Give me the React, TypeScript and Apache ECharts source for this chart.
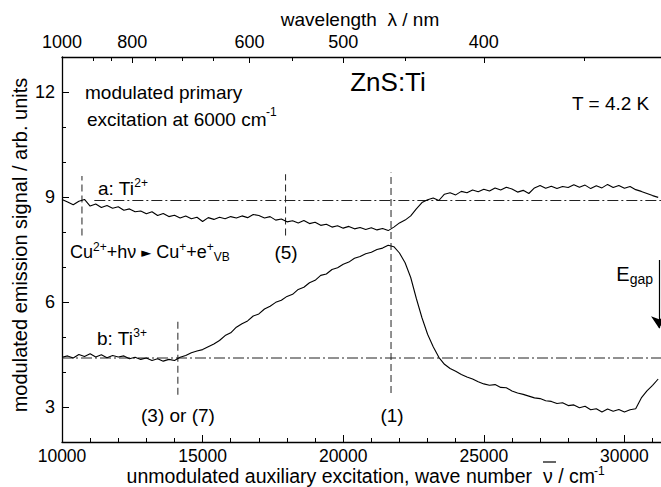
import React, { useEffect, useRef } from 'react';
import * as echarts from 'echarts';

// wave number grid (cm^-1)
const waveNumber = [
  10000, 10200, 10400, 10600, 10800, 11000, 11200, 11400, 11600, 11800,
  12000, 12200, 12400, 12600, 12800, 13000, 13200, 13400, 13600, 13800,
  14000, 14200, 14400, 14600, 14800, 15000, 15200, 15400, 15600, 15800,
  16000, 16200, 16400, 16600, 16800, 17000, 17200, 17400, 17600, 17800,
  18000, 18200, 18400, 18600, 18800, 19000, 19200, 19400, 19600, 19800,
  20000, 20200, 20400, 20600, 20800, 21000, 21200, 21400, 21600, 21800,
  22000, 22200, 22400, 22600, 22800, 23000, 23200, 23400, 23600, 23800,
  24000, 24200, 24400, 24600, 24800, 25000, 25200, 25400, 25600, 25800,
  26000, 26200, 26400, 26600, 26800, 27000, 27200, 27400, 27600, 27800,
  28000, 28200, 28400, 28600, 28800, 29000, 29200, 29400, 29600, 29800,
  30000, 30200, 30400, 30600, 30800, 31000, 31200,
];

// a: Ti2+
const ti2Signal = [
  8.93, 8.86, 8.78, 8.88, 8.93, 8.74, 8.80, 8.70, 8.76, 8.68,
  8.72, 8.62, 8.66, 8.58, 8.60, 8.52, 8.58, 8.47, 8.53, 8.44,
  8.48, 8.40, 8.46, 8.38, 8.42, 8.30, 8.41, 8.36, 8.42, 8.38,
  8.44, 8.40, 8.46, 8.41, 8.50, 8.47, 8.40, 8.44, 8.34, 8.37,
  8.29, 8.32, 8.26, 8.33, 8.24, 8.28, 8.19, 8.22, 8.14, 8.18,
  8.11, 8.16, 8.09, 8.13, 8.07, 8.12, 8.06, 8.10, 8.04, 8.14,
  8.26, 8.34, 8.46, 8.66, 8.84, 8.92, 8.97, 8.90, 9.08, 9.12,
  9.06, 9.16, 9.12, 9.20, 9.15, 9.22, 9.17, 9.26, 9.20, 9.28,
  9.23, 9.14, 9.19, 9.10, 9.26, 9.33, 9.25, 9.31, 9.24, 9.30,
  9.27, 9.35, 9.28, 9.34, 9.24, 9.32, 9.26, 9.36, 9.27, 9.33,
  9.25, 9.30, 9.21, 9.16, 9.10, 9.04, 8.99,
];

// b: Ti3+
const ti3Signal = [
  4.42, 4.46, 4.40, 4.50, 4.44, 4.52, 4.43, 4.49, 4.41, 4.47,
  4.43, 4.46, 4.38, 4.42, 4.36, 4.40, 4.33, 4.38, 4.31, 4.36,
  4.33, 4.42, 4.47, 4.55, 4.60, 4.64, 4.72, 4.80, 4.90, 5.04,
  5.12, 5.28, 5.38, 5.46, 5.60, 5.66, 5.80, 5.88, 5.99, 6.05,
  6.16, 6.22, 6.36, 6.42, 6.55, 6.62, 6.76, 6.80, 6.93, 6.98,
  7.08, 7.14, 7.25, 7.30, 7.38, 7.42, 7.50, 7.54, 7.62, 7.58,
  7.40, 7.12, 6.70, 6.10, 5.55, 5.08, 4.72, 4.42, 4.22, 4.10,
  4.02, 3.93, 3.86, 3.80, 3.72, 3.66, 3.62, 3.64, 3.56, 3.55,
  3.46, 3.40, 3.36, 3.31, 3.26, 3.24, 3.18, 3.16, 3.10, 3.12,
  3.04, 3.06, 2.98, 3.02, 2.92, 2.95, 2.86, 2.94, 2.88, 2.93,
  2.86, 2.92, 2.95, 3.26, 3.46, 3.62, 3.80,
];

// horizontal reference levels (dash-dot)
const ti2Level = 8.9;
const ti2LevelStart = 11150;
const ti3Level = 4.4;
const ti3LevelStart = 10000;

// vertical dashed markers: (a) start, (3) or (7), (5), (1)
const markerWn = [10710, 14120, 17950, 21700];
const markerLow = [7.9, 3.35, 7.9, 3.4];
const markerHigh = [9.6, 5.45, 9.65, 9.7];

// band gap arrow
const egapWn = 31230;
const egapFrom = 7.2;
const egapTo = 5.25;

// axes
const xMin = 10000;
const xMax = 31300;
const yMin = 2;
const yMax = 13;
const xMajorInterval = 5000;
const xMinorInterval = 1000;
const yMajorTicks = [3, 6, 9, 12];
const wavelengthLabels = [1000, 800, 600, 500, 400];
const wavelengthTicks = [1000, 900, 850, 800, 750, 700, 650, 600, 550, 500, 450, 400, 350];

const F = 'Liberation Sans, Arial, Helvetica, sans-serif';
const toWn = (nm: number) => 1e7 / nm;

export default function App() {
  const ref = useRef<HTMLDivElement>(null);
  useEffect(() => {
    if (!ref.current) return;
    const chart = echarts.init(ref.current, undefined, { renderer: 'svg' });
    const black = '#000';
    const sup = (size: number, pad: number) => ({ fontSize: size, fontFamily: F, fill: black, padding: [0, 0, pad, 0] });
    const sub = (size: number, pad: number) => ({ fontSize: size, fontFamily: F, fill: black, padding: [pad, 0, 0, 0] });
    const main = (size: number) => ({ fontSize: size, fontFamily: F, fill: black });
    const plain = (x: number, y: number, text: string, size: number, align: string) => ({
      type: 'text', x, y,
      style: { text, fontSize: size, fontFamily: F, fill: black, align, verticalAlign: 'middle' },
    });

    const refSeries = (data: number[][]) => ({
      type: 'line', data, showSymbol: false, silent: true, z: 2,
      lineStyle: { color: '#222', width: 1, type: [11, 3, 2, 3] },
    });

    const option: any = {
      animation: false,
      backgroundColor: '#fff',
      grid: { left: 62, top: 57, width: 600, height: 385, containLabel: false },
      xAxis: [
        {
          type: 'value', min: xMin, max: xMax, interval: xMajorInterval, position: 'bottom',
          axisLine: { show: true, lineStyle: { color: black, width: 1.3 } },
          axisTick: { show: true, inside: true, length: 7, lineStyle: { color: black } },
          axisLabel: {
            fontSize: 17.5, fontFamily: F, color: black, margin: 5, showMaxLabel: false,
            formatter: (v: number) => (v % xMajorInterval === 0 ? String(v) : ''),
          },
          splitLine: { show: false },
        },
        {
          type: 'value', min: xMin, max: xMax, interval: xMinorInterval, position: 'bottom',
          axisLine: { show: false }, axisLabel: { show: false }, splitLine: { show: false },
          axisTick: { show: true, inside: true, length: 4, lineStyle: { color: black } },
        },
        {
          type: 'value', min: xMin, max: xMax, position: 'top',
          axisLine: { show: true, lineStyle: { color: black, width: 1.3 } },
          axisTick: { show: true, inside: true, length: 6, lineStyle: { color: black }, customValues: wavelengthLabels.map(toWn) },
          axisLabel: {
            fontSize: 18, fontFamily: F, color: black, margin: 6,
            customValues: wavelengthLabels.map(toWn),
            formatter: (v: number) => String(Math.round(1e7 / v)),
          },
          splitLine: { show: false },
        },
        {
          type: 'value', min: xMin, max: xMax, position: 'top',
          axisLine: { show: false }, axisLabel: { show: false }, splitLine: { show: false },
          axisTick: { show: true, inside: true, length: 4, lineStyle: { color: black }, customValues: wavelengthTicks.map(toWn) },
        },
      ],
      yAxis: [
        {
          type: 'value', min: yMin, max: yMax, position: 'left',
          axisLine: { show: true, lineStyle: { color: black, width: 1.3 } },
          axisTick: { show: true, inside: true, length: 7, lineStyle: { color: black }, customValues: yMajorTicks },
          axisLabel: { fontSize: 18, fontFamily: F, color: black, margin: 7, customValues: yMajorTicks },
          splitLine: { show: false },
        },
        {
          type: 'value', min: yMin, max: yMax, interval: 1, position: 'left',
          axisLine: { show: false }, axisLabel: { show: false }, splitLine: { show: false },
          axisTick: { show: true, inside: true, length: 4, lineStyle: { color: black } },
        },
      ],
      series: [
        refSeries([[ti2LevelStart, ti2Level], [xMax, ti2Level]]),
        refSeries([[ti3LevelStart, ti3Level], [xMax, ti3Level]]),
        ...markerWn.map((w, i) => ({
          type: 'line', showSymbol: false, silent: true, z: 2,
          data: [[w, markerLow[i]], [w, markerHigh[i]]],
          lineStyle: { color: '#222', width: 1, type: [7, 4] },
        })),
        {
          type: 'line', showSymbol: false, z: 3,
          data: waveNumber.map((x, i) => [x, ti2Signal[i]]),
          lineStyle: { color: black, width: 1.1 },
        },
        {
          type: 'line', showSymbol: false, z: 3,
          data: waveNumber.map((x, i) => [x, ti3Signal[i]]),
          lineStyle: { color: black, width: 1.1 },
        },
        {
          type: 'lines', coordinateSystem: 'cartesian2d', z: 4,
          symbol: ['none', 'arrow'], symbolSize: [6, 12],
          lineStyle: { color: black, width: 1.2, opacity: 1 },
          data: [{ coords: [[egapWn, egapFrom], [egapWn, egapTo]] }],
        },
      ],
      graphic: [
        {
          type: 'text', x: 20, y: 245, rotation: Math.PI / 2,
          style: { text: 'modulated emission signal / arb. units', fontSize: 20, fontFamily: F, fill: black, align: 'center', verticalAlign: 'middle' },
        },
        plain(360, 19, 'wavelength  λ / nm', 19, 'center'),
        plain(532, 476, 'unmodulated auxiliary excitation, wave number', 19.5, 'right'),
        plain(543, 476, 'ν / cm', 19.5, 'left'),
        plain(594, 471, '-1', 12, 'left'),
        { type: 'line', shape: { x1: 543, y1: 462, x2: 556, y2: 462 }, style: { stroke: black, lineWidth: 1.2 } },
        plain(85, 92, 'modulated primary', 19, 'left'),
        plain(87, 119, 'excitation at 6000 cm', 19, 'left'),
        plain(266, 112, '-1', 12, 'left'),
        plain(388, 82, 'ZnS:Ti', 26, 'center'),
        plain(572, 103, 'T = 4.2 K', 19, 'left'),
        {
          type: 'text', x: 98, y: 188,
          style: {
            text: '{m|a: Ti}{s|2+}', align: 'left', verticalAlign: 'middle', fontFamily: F,
            rich: { m: main(19), s: sup(12, 11) },
          },
        },
        {
          type: 'text', x: 97, y: 338,
          style: {
            text: '{m|b: Ti}{s|3+}', align: 'left', verticalAlign: 'middle', fontFamily: F,
            rich: { m: main(19), s: sup(12, 11) },
          },
        },
        {
          type: 'text', x: 70, y: 252,
          style: {
            text: '{m|Cu}{s|2+}{m|+hν }{a|►}{m| Cu}{s|+}{m|+e}{s|+}{d|VB}',
            align: 'left', verticalAlign: 'middle', fontFamily: F,
            rich: {
              m: main(18), s: sup(12, 11), d: sub(12, 10),
              a: { fontSize: 13, fontFamily: 'DejaVu Sans, sans-serif', fill: black },
            },
          },
        },
        plain(286, 252, '(5)', 19, 'center'),
        plain(178, 415, '(3) or (7)', 19, 'center'),
        plain(392, 415, '(1)', 19, 'center'),
        {
          type: 'text', x: 653, y: 274,
          style: {
            text: '{m|E}{d|gap}', align: 'right', verticalAlign: 'middle', fontFamily: F,
            rich: { m: main(20), d: sub(14, 10) },
          },
        },
      ],
    };
    chart.setOption(option);
    return () => chart.dispose();
  }, []);
  return (
    <div
      ref={ref}
      style={{ position: 'fixed', left: 0, top: 0, width: 661, height: 487, background: '#fff' }}
    />
  );
}
